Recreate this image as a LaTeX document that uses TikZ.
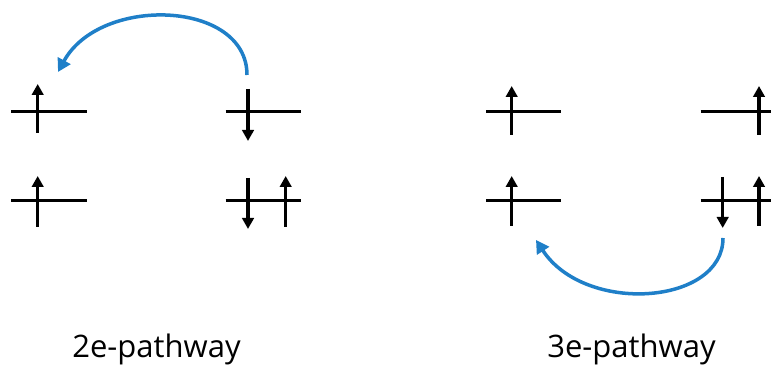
\documentclass[tikz,border=0pt]{standalone}
\usepackage{fontspec}
\setmainfont{Open Sans}
\usetikzlibrary{arrows.meta}
\definecolor{arcblue}{RGB}{31,127,200}
\begin{document}
\begin{tikzpicture}[x=1pt,y=-1pt,
  level/.style={line width=3.4pt},
  spin/.style={line width=3.4pt,-{Triangle[width=11.5pt,length=11pt]}},
  transfer/.style={line width=3.5pt,arcblue,-{Triangle[width=14pt,length=13pt]}},
  label/.style={font=\fontsize{31}{36}\selectfont,anchor=base,inner sep=0pt}]
\useasboundingbox (0,0) rectangle (771,366);
\clip (0,0) rectangle (771,366);
% ---- 2e-pathway ----
\draw[level] (11,111.7) -- (87,111.7);
\draw[level] (11,200.5) -- (87,200.5);
\draw[level] (225.7,111.7) -- (301,111.7);
\draw[level] (225.7,200.5) -- (301,200.5);
\draw[spin] (37.7,133) -- (37.7,84);
\draw[spin] (37.7,227) -- (37.7,176);
\draw[spin] (248,89) -- (248,141);
\draw[spin] (248,178) -- (248,229);
\draw[spin] (285.7,227) -- (285.7,176);
\coordinate (s1) at (247,75);
\coordinate (e1) at (58,72);
\draw[transfer] (s1) .. controls (247,0) and (100,-5) .. (e1);
\node[label] (t1) at (156.5,357) {2e-pathway};
% ---- 3e-pathway ----
\draw[level] (486,111.7) -- (561,111.7);
\draw[level] (486,200.5) -- (561,200.5);
\draw[level] (700.7,111.7) -- (780,111.7);
\draw[level] (700.7,200.5) -- (780,200.5);
\draw[spin] (511.7,135) -- (511.7,86);
\draw[spin] (511.7,226) -- (511.7,176);
\draw[spin] (759,135) -- (759,86);
\draw[spin] (722.7,177) -- (722.7,228);
\draw[spin] (759,226) -- (759,176);
\coordinate (s2) at (723,238);
\coordinate (e2) at (536,240);
\draw[transfer] (s2) .. controls (723,305) and (585,315) .. (e2);
\node[label] (t2) at (631.5,357) {3e-pathway};
\end{tikzpicture}
\end{document}
